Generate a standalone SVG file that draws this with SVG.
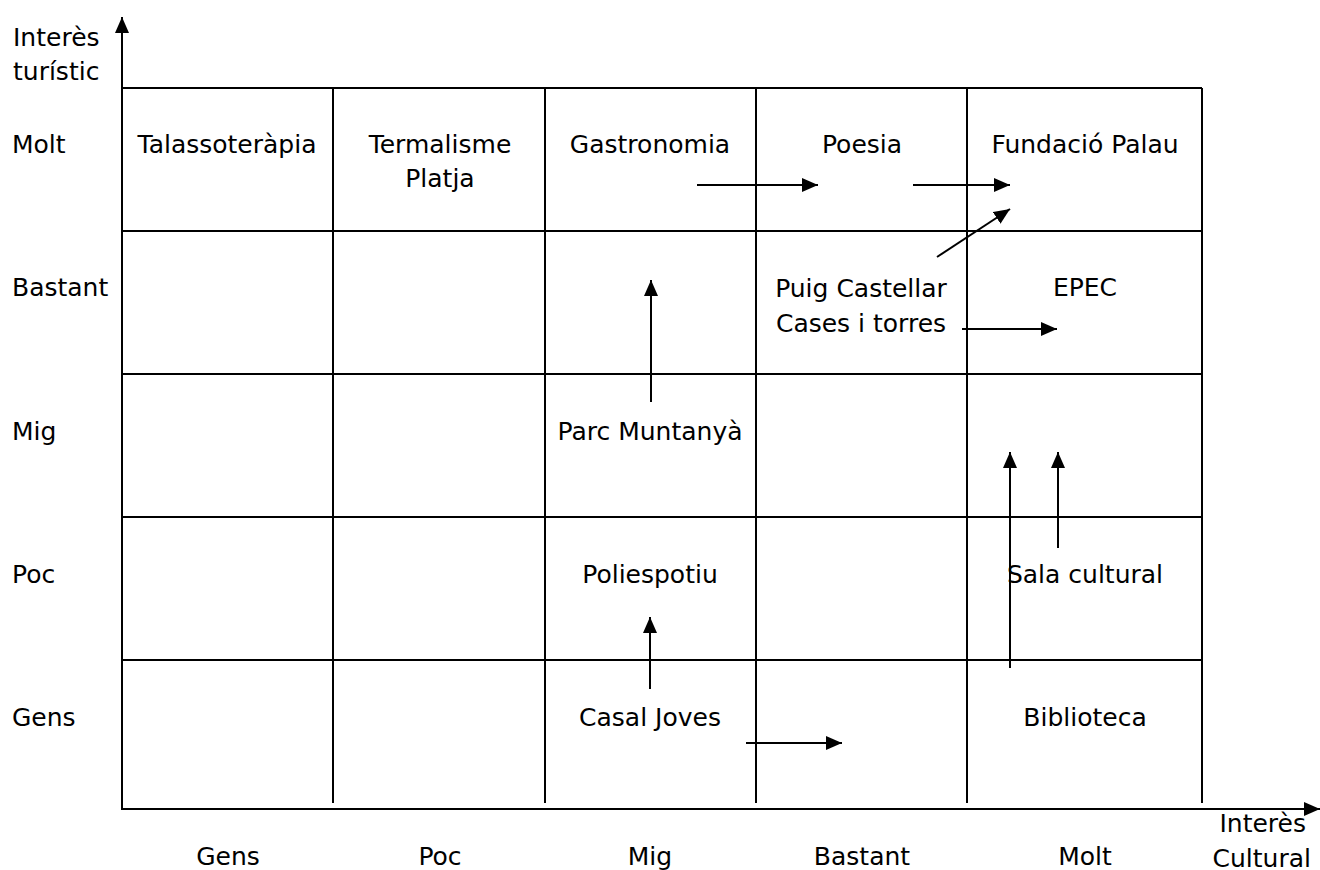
<svg xmlns="http://www.w3.org/2000/svg" width="1320" height="870" viewBox="0 0 1320 870">
<style>
text{font-family:"DejaVu Sans","Liberation Sans",sans-serif;font-size:25px;fill:#000}
.c{text-anchor:middle}
.g{stroke:#000;stroke-width:2;fill:none}
.a{stroke:#000;stroke-width:2;fill:none;marker-end:url(#ah)}
</style>
<defs>
<marker id="ah" markerUnits="userSpaceOnUse" markerWidth="16" markerHeight="14" refX="16" refY="7" orient="auto">
<path d="M0,0 L16,7 L0,14 Z" fill="#000"/>
</marker>
</defs>
<rect width="1320" height="870" fill="#fff"/>
<g id="grid">
<line class="g" x1="122" y1="88" x2="1202" y2="88"/>
<line class="g" x1="122" y1="231" x2="1202" y2="231"/>
<line class="g" x1="122" y1="374" x2="1202" y2="374"/>
<line class="g" x1="122" y1="517" x2="1202" y2="517"/>
<line class="g" x1="122" y1="660" x2="1202" y2="660"/>
<line class="g" x1="333" y1="88" x2="333" y2="803"/>
<line class="g" x1="545" y1="88" x2="545" y2="803"/>
<line class="g" x1="756" y1="88" x2="756" y2="803"/>
<line class="g" x1="967" y1="88" x2="967" y2="803"/>
<line class="g" x1="1202" y1="88" x2="1202" y2="803"/>
</g>
<g id="axes">
<line class="a" x1="122" y1="809" x2="122" y2="17"/>
<line class="a" x1="121" y1="809" x2="1320" y2="809"/>
<text x="13" y="46">Interès</text>
<text x="13" y="80">turístic</text>
<text x="1306" y="832" text-anchor="end">Interès</text>
<text x="1311" y="867" text-anchor="end">Cultural</text>
</g>
<g id="row-labels">
<text x="12" y="153">Molt</text>
<text x="12" y="296">Bastant</text>
<text x="12" y="440">Mig</text>
<text x="12" y="583">Poc</text>
<text x="12" y="726">Gens</text>
</g>
<g id="col-labels">
<text class="c" x="228" y="865">Gens</text>
<text class="c" x="440" y="865">Poc</text>
<text class="c" x="650" y="865">Mig</text>
<text class="c" x="862" y="865">Bastant</text>
<text class="c" x="1085" y="865">Molt</text>
</g>
<g id="talassoterapia"><text class="c" x="227" y="153">Talassoteràpia</text></g>
<g id="termalisme"><text class="c" x="440" y="153">Termalisme</text><text class="c" x="440" y="187">Platja</text></g>
<g id="gastronomia"><text class="c" x="650" y="153">Gastronomia</text></g>
<g id="poesia"><text class="c" x="862" y="153">Poesia</text></g>
<g id="fundacio-palau"><text class="c" x="1085" y="153">Fundació Palau</text></g>
<g id="puig-castellar"><text class="c" x="861" y="297">Puig Castellar</text><text class="c" x="861" y="332">Cases i torres</text></g>
<g id="epec"><text class="c" x="1085" y="296">EPEC</text></g>
<g id="parc-muntanya"><text class="c" x="650" y="440">Parc Muntanyà</text></g>
<g id="poliespotiu"><text class="c" x="650" y="583">Poliespotiu</text></g>
<g id="sala-cultural"><text class="c" x="1085" y="583">Sala cultural</text></g>
<g id="casal-joves"><text class="c" x="650" y="726">Casal Joves</text></g>
<g id="biblioteca"><text class="c" x="1085" y="726">Biblioteca</text></g>
<g id="connectors">
<line class="a" x1="697" y1="185" x2="818" y2="185"/>
<line class="a" x1="913" y1="185" x2="1010" y2="185"/>
<line class="a" x1="937" y1="257" x2="1010" y2="209"/>
<line class="a" x1="962" y1="329" x2="1057" y2="329"/>
<line class="a" x1="651" y1="402" x2="651" y2="280"/>
<line class="a" x1="1010" y1="668" x2="1010" y2="452"/>
<line class="a" x1="1058" y1="548" x2="1058" y2="452"/>
<line class="a" x1="650" y1="689" x2="650" y2="617"/>
<line class="a" x1="746" y1="743" x2="842" y2="743"/>
</g>
</svg>
